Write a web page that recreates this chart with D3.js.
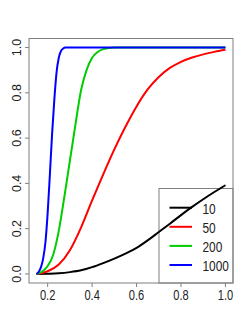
<!DOCTYPE html>
<html><head><meta charset="utf-8">
<script src="https://cdn.jsdelivr.net/npm/d3@7"></script>
<style>body{margin:0;background:#fff}svg{display:block}text{font-family:"Liberation Sans",Arial,sans-serif}</style>
</head><body><svg id="c" width="249" height="332"></svg>
<script>
const seriesNames = ["10","50","200","1000"];
const seriesColors = ["#000000","#ff0000","#00cd00","#0000ff"];
const x10 = [0.15,0.2,0.25,0.3,0.35,0.4,0.45,0.5,0.55,0.6,0.65,0.7,0.75,0.8,0.85,0.9,0.95,1.0];
const y10 = [0,0.001,0.003,0.008,0.016,0.03,0.048,0.068,0.09,0.115,0.148,0.185,0.222,0.26,0.296,0.33,0.362,0.392];
const x50 = [0.15,0.2,0.25,0.3,0.35,0.4,0.45,0.5,0.55,0.6,0.65,0.7,0.75,0.8,0.85,0.9,0.95,1.0];
const y50 = [0,0.012,0.042,0.105,0.205,0.325,0.44,0.55,0.65,0.74,0.815,0.87,0.91,0.937,0.956,0.97,0.981,0.99];
const x200 = [0.15,0.175,0.2,0.225,0.25,0.275,0.3,0.325,0.35,0.375,0.4,0.425,0.45,0.5,1.0];
const y200 = [0,0.01,0.035,0.085,0.19,0.34,0.5,0.66,0.81,0.9,0.955,0.98,0.993,1,1];
const x1000 = [0.15,0.16,0.17,0.18,0.19,0.2,0.21,0.22,0.23,0.24,0.25,0.26,0.27,0.28,0.3,1.0];
const y1000 = [0,0.01,0.03,0.07,0.14,0.27,0.44,0.62,0.77,0.89,0.955,0.985,0.996,1,1,1];
const xTicks = [0.2,0.4,0.6,0.8,1.0];
const yTicks = [0.0,0.2,0.4,0.6,0.8,1.0];

const xs = [x10,x50,x200,x1000], ys = [y10,y50,y200,y1000];
const svg = d3.select("#c");
const L = 29, R = 233, T = 38.5, B = 283;
const x = d3.scaleLinear().domain([0.116,1.034]).range([L,R]);
const y = d3.scaleLinear().domain([-0.04,1.04]).range([B,T]);
const grey = "#7f7f7f";

svg.append("rect").attr("x",L).attr("y",T).attr("width",R-L).attr("height",B-T)
  .attr("fill","none").attr("stroke",grey).attr("stroke-width",1);

// x axis
const gx = svg.append("g");
xTicks.forEach(t=>{
  gx.append("line").attr("x1",x(t)).attr("x2",x(t)).attr("y1",B).attr("y2",B+4).attr("stroke",grey);
  gx.append("text").attr("transform",`translate(${x(t)},300) scale(0.74,1)`)
    .attr("text-anchor","middle").attr("font-size",15).attr("fill","#222").text(t.toFixed(1));
});
// y axis
const gy = svg.append("g");
yTicks.forEach(t=>{
  gy.append("line").attr("x1",L-4).attr("x2",L).attr("y1",y(t)).attr("y2",y(t)).attr("stroke",grey);
  gy.append("text").attr("transform",`translate(20.5,${y(t)}) rotate(-90)`)
    .attr("text-anchor","middle").attr("font-size",12.5).attr("fill","#222").text(t.toFixed(1));
});

// legend box
const lx = 159, ly = 188.5;
svg.append("rect").attr("x",lx).attr("y",ly).attr("width",R-lx).attr("height",B-ly)
  .attr("fill","none").attr("stroke",grey).attr("stroke-width",1);
seriesNames.forEach((n,i)=>{
  const yy = 207.7 + i*19.1;
  svg.append("line").attr("x1",169.5).attr("x2",192).attr("y1",yy).attr("y2",yy)
    .attr("stroke",seriesColors[i]).attr("stroke-width",2);
  svg.append("text").attr("transform",`translate(202.5,${yy+6}) scale(0.85,1)`)
    .attr("font-size",14).attr("fill","#222").text(n);
});

// lines
const line = d3.line().x(d=>x(d[0])).y(d=>y(d[1])).curve(d3.curveMonotoneX);
xs.forEach((xa,i)=>{
  const pts = xa.map((v,j)=>[v,ys[i][j]]);
  svg.append("path").attr("d",line(pts)).attr("fill","none")
    .attr("stroke",seriesColors[i]).attr("stroke-width",2);
});
</script></body></html>
